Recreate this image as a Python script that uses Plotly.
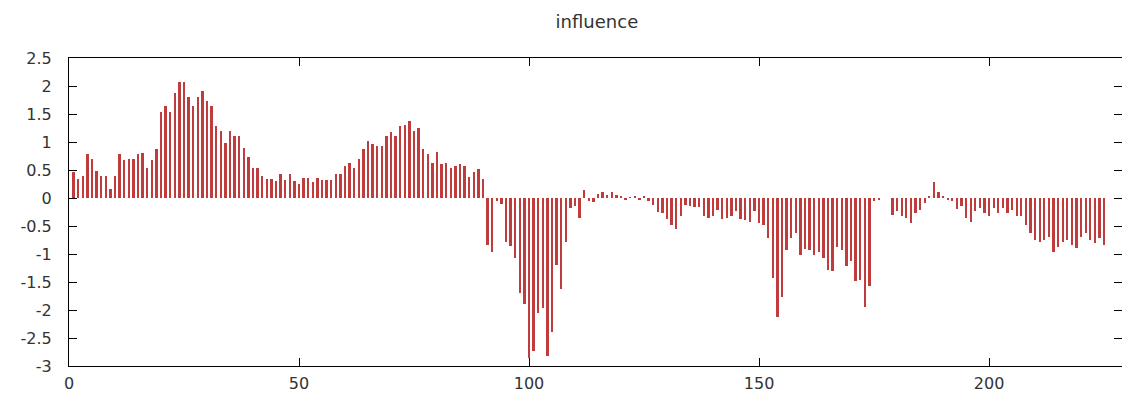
import plotly.graph_objects as go

# index of each impulse (1..225)
x_index = list(range(1, 226))

infl_1_48 = [0.46, 0.34, 0.40, 0.78, 0.70, 0.48, 0.40, 0.40, 0.16, 0.40,
             0.78, 0.67, 0.70, 0.70, 0.78, 0.81, 0.54, 0.67, 0.87, 1.53,
             1.65, 1.53, 1.88, 2.08, 2.08, 1.81, 1.65, 1.81, 1.91, 1.74,
             1.65, 1.28, 1.20, 0.98, 1.20, 1.11, 1.11, 0.90, 0.73, 0.54,
             0.54, 0.40, 0.34, 0.34, 0.30, 0.43, 0.33, 0.42]
infl_49_90 = [0.31, 0.25, 0.35, 0.35, 0.29, 0.36, 0.32, 0.33, 0.33, 0.42,
              0.43, 0.58, 0.63, 0.53, 0.70, 0.87, 1.01, 0.96, 0.92, 0.92,
              1.11, 1.18, 1.11, 1.28, 1.31, 1.38, 1.19, 1.25, 0.87, 0.78,
              0.62, 0.82, 0.60, 0.62, 0.53, 0.58, 0.60, 0.58, 0.38, 0.46,
              0.52, 0.34]
infl_91_111 = [-0.84, -0.97, -0.06, -0.10, -0.78, -0.85, -1.07, -1.70, -1.89, -2.85,
               -2.74, -2.05, -1.97, -2.83, -2.39, -1.19, -1.63, -0.79, -0.18, -0.15,
               -0.35]
infl_112_126 = [0.15, -0.05, -0.08, 0.08, 0.10, 0.06, 0.10, 0.05, 0.02, -0.02,
                0.01, 0.03, -0.02, 0.02, -0.05]
infl_127_174 = [-0.12, -0.25, -0.26, -0.37, -0.48, -0.55, -0.33, -0.13, -0.14, -0.16,
                -0.16, -0.33, -0.36, -0.33, -0.21, -0.38, -0.36, -0.33, -0.24, -0.38,
                -0.39, -0.42, -0.24, -0.45, -0.48, -0.72, -1.43, -2.13, -1.76, -0.92,
                -0.72, -0.62, -1.02, -0.91, -0.93, -1.02, -0.97, -1.07, -1.28, -1.30,
                -0.88, -0.93, -1.22, -1.13, -1.49, -1.46, -1.94, -1.58]
infl_175_225 = [-0.06, -0.03, 0.0, 0.0, -0.30, -0.24, -0.33, -0.36, -0.45, -0.27,
                -0.21, -0.09, 0.02, 0.28, 0.10, 0.04, -0.03, -0.06, -0.20, -0.14,
                -0.36, -0.42, -0.24, -0.18, -0.27, -0.33, -0.18, -0.27, -0.18, -0.26,
                -0.21, -0.33, -0.33, -0.48, -0.63, -0.75, -0.78, -0.75, -0.69, -0.96,
                -0.87, -0.78, -0.75, -0.84, -0.90, -0.69, -0.63, -0.75, -0.81, -0.72,
                -0.84]

influence = infl_1_48 + infl_49_90 + infl_91_111 + infl_112_126 + infl_127_174 + infl_175_225
assert len(influence) == len(x_index)

x_ticks = [0, 50, 100, 150, 200]
y_ticks = [2.5, 2, 1.5, 1, 0.5, 0, -0.5, -1, -1.5, -2, -2.5, -3]
y_tick_text = ["2.5", "2", "1.5", "1", "0.5", "0", "-0.5", "-1", "-1.5", "-2", "-2.5", "-3"]

font_family = "DejaVu Sans"
text_color = "#333333"

fig = go.Figure()
fig.add_trace(go.Bar(
    x=x_index, y=influence, width=0.5,
    marker=dict(color="#c03c3c", line=dict(width=0)),
    showlegend=False,
))

fig.update_layout(
    width=1122, height=403,
    margin=dict(l=69, r=0, t=58, b=37),
    paper_bgcolor="white", plot_bgcolor="white",
    title=dict(text="influence", x=0.532, xanchor="center", y=1 - 22 / 403, yanchor="middle",
               font=dict(family=font_family, size=18, color=text_color)),
    bargap=0,
)
fig.update_xaxes(
    range=[0, 228.9], tickvals=x_ticks, ticks="inside", ticklen=8, tickcolor="black",
    showline=True, linecolor="black", linewidth=1, mirror="ticks",
    showgrid=False, zeroline=False, ticklabelstandoff=3,
    tickfont=dict(family=font_family, size=16, color=text_color),
)
fig.update_yaxes(
    range=[-3, 2.5], tickvals=y_ticks, ticktext=y_tick_text, ticks="inside", ticklen=8,
    tickcolor="black", showline=True, linecolor="black", linewidth=1, mirror="ticks",
    showgrid=False, zeroline=False, ticklabelstandoff=13,
    tickfont=dict(family=font_family, size=16, color=text_color),
)

fig.write_html("out.html")
